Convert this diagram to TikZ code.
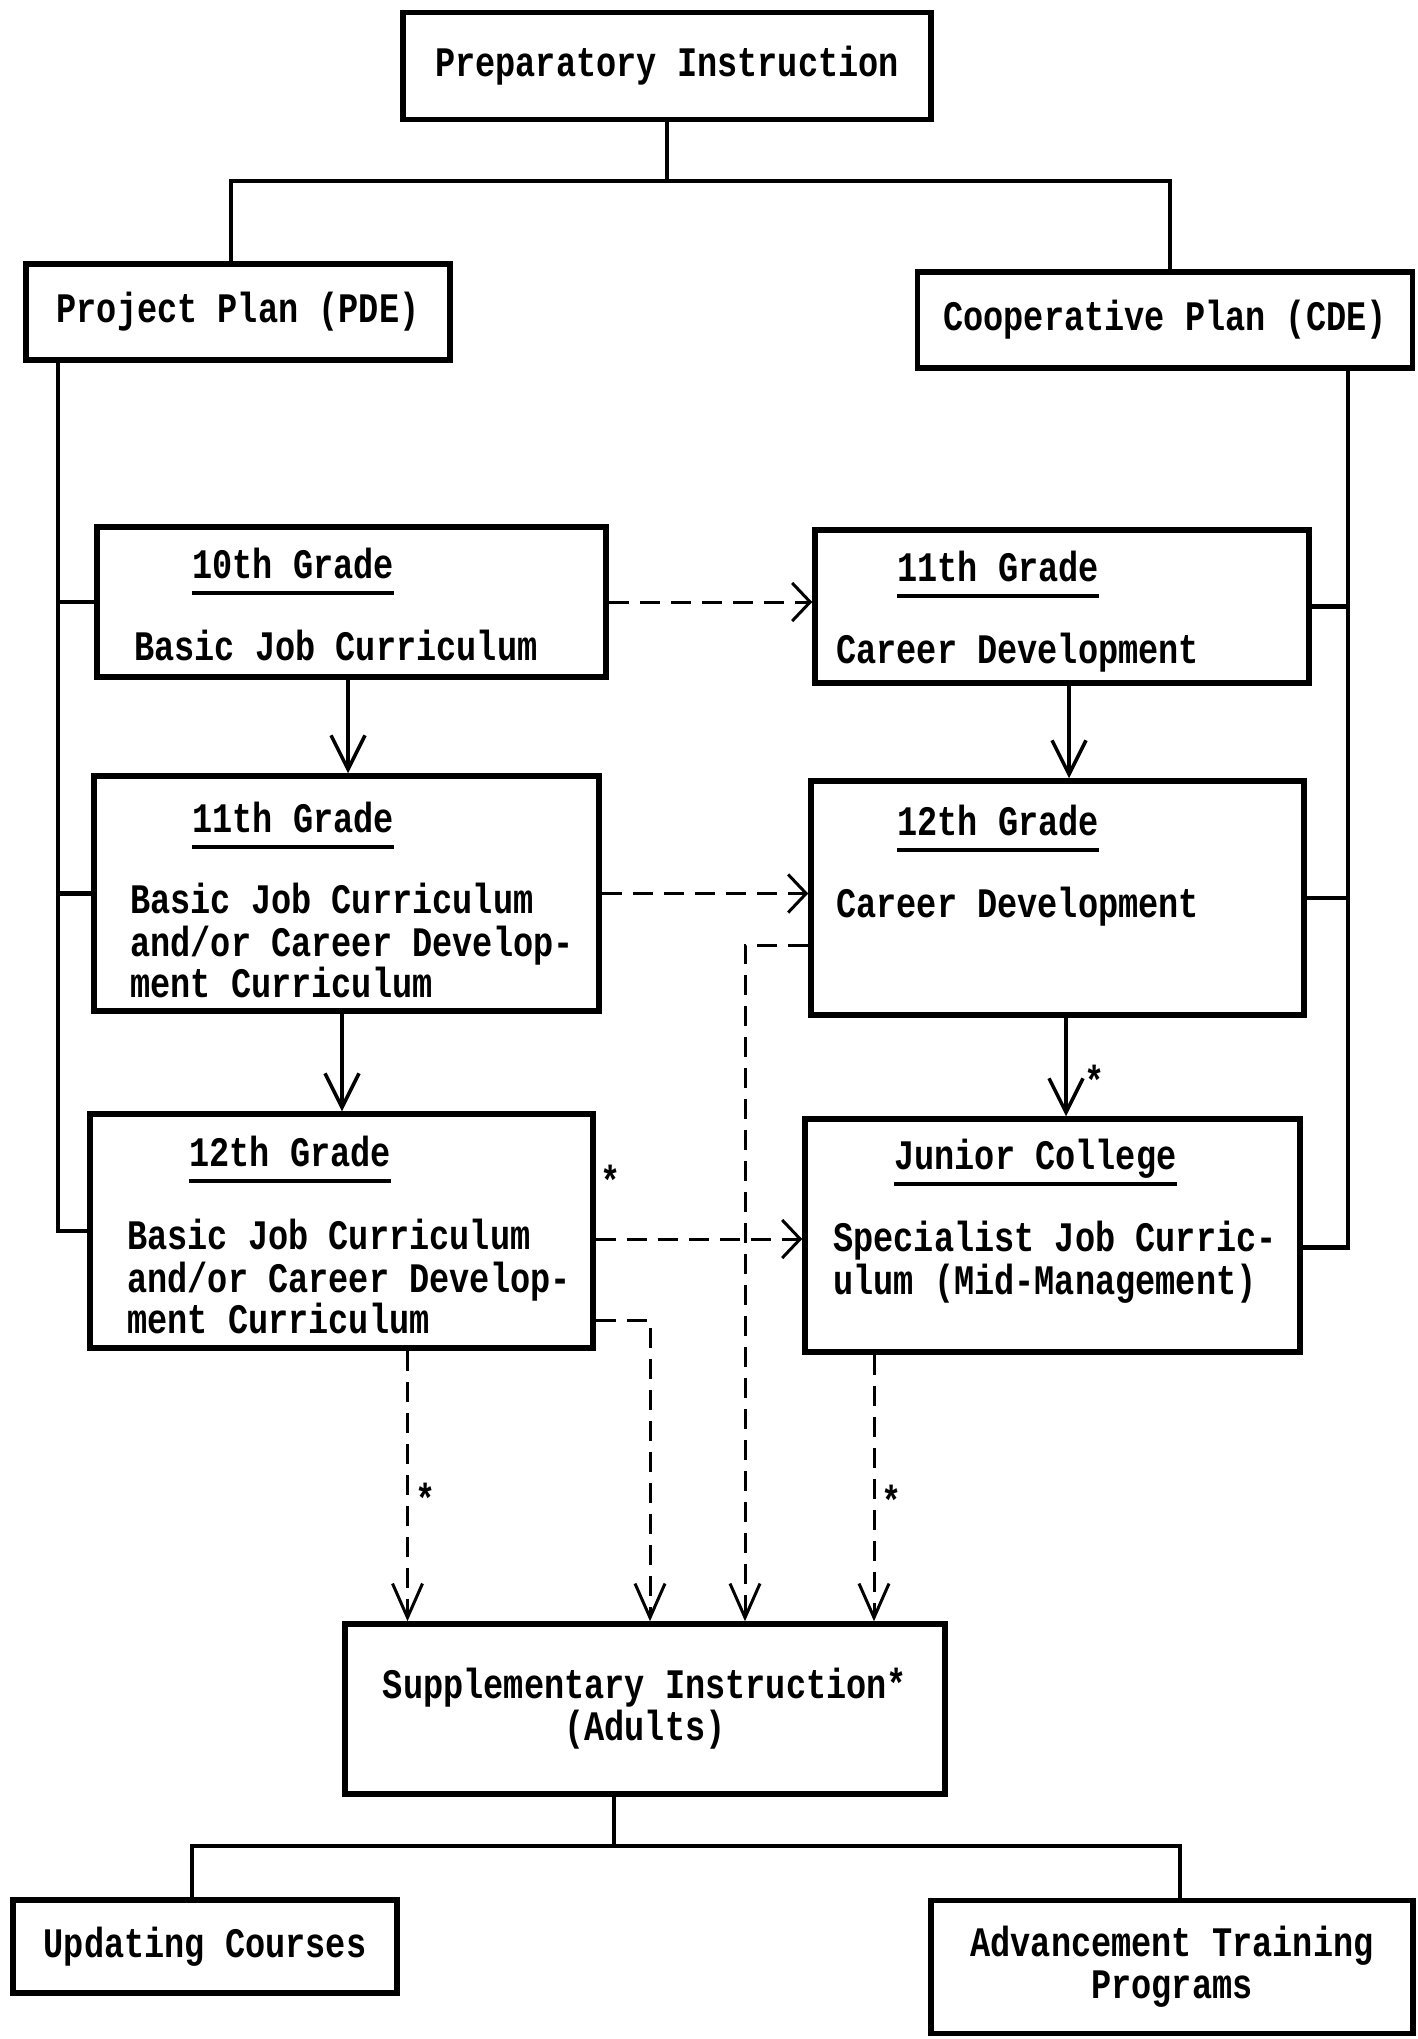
\documentclass[tikz,border=0pt]{standalone}
\usepackage{fontspec}
\setmonofont{Liberation Mono}[FakeStretch=0.8]
\usetikzlibrary{arrows.meta,calc}
\newcommand\twfont{\ttfamily\bfseries\fontsize{42}{42}\selectfont}
\begin{document}
\begin{tikzpicture}[x=1pt,y=-1pt,
  box/.style={draw, rectangle, line width=5.5pt, inner sep=0pt, font=\twfont, align=center},
  txt/.style={inner sep=0pt, anchor=base west, font=\twfont},
  star/.style={inner sep=0pt, font=\twfont},
  uline/.style={line width=4pt},
  tree/.style={line width=4.2pt},
  sarr/.style={line width=3.5pt, -{Straight Barb[length=34pt,width=34pt]}},
  dline/.style={line width=3pt, dash pattern=on 20pt off 11pt},
  harr/.style={dline, -{Straight Barb[length=18pt,width=38pt,line width=3pt]}},
  varr/.style={dline, -{Straight Barb[length=34pt,width=30pt,line width=3pt]}}]

\fill[white] (0,0) rectangle (1417,2039);
\useasboundingbox (0,0) rectangle (1417,2039);

% boxes
\node[box, minimum width=528pt, minimum height=107pt] (prep) at (667,66) {Preparatory Instruction};
\node[box, minimum width=424pt, minimum height=96pt] (pde) at (238,312) {Project Plan (PDE)};
\node[box, minimum width=495pt, minimum height=96pt] (cde) at (1165,320) {Cooperative Plan (CDE)};
\node[box, minimum width=509pt, minimum height=150pt] (b10) at (351.5,602) {};
\node[box, minimum width=494pt, minimum height=153pt] (b11r) at (1062,606.5) {};
\node[box, minimum width=505pt, minimum height=235pt] (b11l) at (346.5,893.5) {};
\node[box, minimum width=493pt, minimum height=234pt] (b12r) at (1057.5,898) {};
\node[box, minimum width=503pt, minimum height=234pt] (b12l) at (341.5,1231) {};
\node[box, minimum width=495pt, minimum height=233pt] (bjc) at (1052.5,1235.5) {};
\node[box, minimum width=600pt, minimum height=170pt] (sup) at (645,1709) {Supplementary Instruction*\\(Adults)};
\node[box, minimum width=384pt, minimum height=93pt] (upd) at (205,1946.5) {Updating Courses};
\node[box, minimum width=482pt, minimum height=133pt] (adv) at (1172,1967) {Advancement Training\\Programs};

% box texts
\node[txt] (t10) at (192,578) {10th Grade};
\node[txt] (x10) at (134,660) {Basic Job Curriculum};
\node[txt] (t11r) at (897,581) {11th Grade};
\node[txt] (x11r) at (836,663) {Career Development};
\node[txt] (t11l) at (192,832) {11th Grade};
\node[txt] (x11la) at (130,913) {Basic Job Curriculum};
\node[txt] (x11lb) at (130,956) {and/or Career Develop-};
\node[txt] (x11lc) at (130,997) {ment Curriculum};
\node[txt] (t12r) at (897,835) {12th Grade};
\node[txt] (x12r) at (836,917) {Career Development};
\node[txt] (t12l) at (189,1166) {12th Grade};
\node[txt] (x12la) at (127,1249) {Basic Job Curriculum};
\node[txt] (x12lb) at (127,1292) {and/or Career Develop-};
\node[txt] (x12lc) at (127,1333) {ment Curriculum};
\node[txt] (tjc) at (894,1169) {Junior College};
\node[txt] (xjca) at (833,1251) {Specialist Job Curric-};
\node[txt] (xjcb) at (833,1294) {ulum (Mid-Management)};

% title underlines
\foreach \t in {t10,t11r,t11l,t12r,t12l,tjc}
  \draw[uline] ([yshift=-15pt]\t.base west) -- ([yshift=-15pt]\t.base east);

% connection points on box sides
\coordinate (jce) at ([yshift=-12pt]bjc.east);
\coordinate (g12le) at ([yshift=-8pt]b12l.east);
\coordinate (g12rw) at ([yshift=-47pt]b12r.west);
\coordinate (g12lb) at ([xshift=66pt]b12l.south);
\coordinate (g12lx) at ([yshift=-89pt]b12l.east);
\coordinate (jcb) at ([xshift=-178.5pt]bjc.south);

% top tree
\coordinate (tj) at (667,181);
\coordinate (tl) at (231,181);
\coordinate (tr) at (1170,181);
\draw[tree] (prep.south) -- (tj);
\draw[tree] (tl |- pde.north) -- (tl) -- (tr) -- (tr |- cde.north);

% left spine (PDE)
\coordinate (ls) at (58,0);
\draw[tree] (ls |- pde.south) -- (ls |- b12l.west) -- (b12l.west);
\draw[tree] (ls |- b10.west) -- (b10.west);
\draw[tree] (ls |- b11l.west) -- (b11l.west);

% right spine (CDE)
\coordinate (rs) at (1348,0);
\draw[tree] (rs |- cde.south) -- (rs |- jce) -- (jce);
\draw[tree] (rs |- b11r.east) -- (b11r.east);
\draw[tree] (rs |- b12r.east) -- (b12r.east);

% solid grade-to-grade arrows
\draw[sarr] ([xshift=-3.5pt]b10.south) -- ([xshift=1.5pt]b11l.north);
\draw[sarr] ([xshift=-4.5pt]b11l.south) -- ([xshift=0.5pt]b12l.north);
\draw[sarr] ([xshift=7pt]b11r.south) -- ([xshift=11.5pt]b12r.north);
\draw[sarr] ([xshift=8.5pt]b12r.south) -- ([xshift=13.5pt]bjc.north);

% dashed cross-over arrows
\draw[harr] (b10.east) -- (b10.east -| b11r.west);
\draw[harr] (b11l.east) -- (b11l.east -| b12r.west);
\draw[harr] (g12le) -- (g12le -| bjc.west);

% dashed arrows into supplementary instruction
\coordinate (c12r) at (745,0);
\coordinate (c12l) at (650,0);
\draw[varr] (g12rw) -- (c12r |- g12rw) -- (c12r |- sup.north);
\draw[varr] (g12lb) -- (g12lb |- sup.north);
\draw[varr] (g12lx) -- (c12l |- g12lx) -- (c12l |- sup.north);
\draw[varr] (jcb) -- (jcb |- sup.north);

% bottom tree
\coordinate (bj) at (614,1846);
\coordinate (bl) at (192,1846);
\coordinate (br) at (1180,1846);
\draw[tree] (bj |- sup.south) -- (bj);
\draw[tree] (bl |- upd.north) -- (bl) -- (br) -- (br |- adv.north);

% footnote marks
\node[star] (s1) at (611,1180) {*};
\node[star] (s2) at (1095,1080) {*};
\node[star] (s3) at (426,1498) {*};
\node[star] (s4) at (892,1500) {*};
\end{tikzpicture}
\end{document}
